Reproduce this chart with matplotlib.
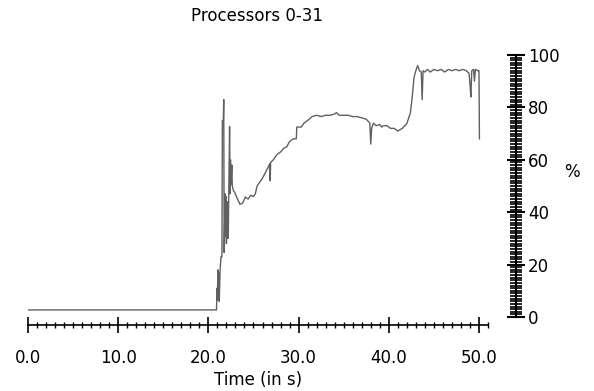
# CPU usage trace for processors 0-31, redrawn from the profiler screenshot.

import matplotlib
matplotlib.use("Agg")
import matplotlib.pyplot as plt
from matplotlib.ticker import MultipleLocator, FormatStrFormatter

# Time (s) and usage (%)
time_s = [
    0.0, 20.9, 20.95, 21.0, 21.05, 21.1, 21.15, 21.2, 21.3, 21.4,
    21.5, 21.55, 21.65, 21.7, 21.75, 21.85, 21.9, 21.95, 22.0, 22.1,
    22.2, 22.35, 22.4, 22.45, 22.5, 22.6, 22.65, 22.8, 22.9, 23.1,
    23.3, 23.5, 23.8, 24.1, 24.4, 24.7, 25.0, 25.2, 25.4, 25.7,
    26.0, 26.3, 26.6, 26.8, 26.85, 26.9, 27.2, 27.6, 28.0, 28.4,
    28.7, 29.0, 29.4, 29.75, 29.8, 30.3, 30.6, 31.0, 31.5, 32.0,
    32.5, 33.0, 33.5, 34.0, 34.2, 34.5, 35.0, 35.5, 36.0, 36.5,
    37.0, 37.5, 37.9, 38.0, 38.1, 38.3, 38.6, 39.0, 39.2, 39.4,
    39.8, 40.2, 40.6, 41.0, 41.5, 42.0, 42.4, 42.6, 42.8, 43.0,
    43.2, 43.4, 43.6, 43.7, 43.8, 44.0, 44.3, 44.6, 45.0, 45.4,
    45.8, 46.2, 46.6, 47.0, 47.4, 47.8, 48.2, 48.6, 48.9, 49.0,
    49.1, 49.2, 49.4, 49.5, 49.6, 49.9, 50.0, 50.05,
]
usage_pct = [
    2.7, 2.7, 11, 6.5, 18, 7, 17, 6, 18, 23,
    23, 75, 74, 83, 24.6, 47, 30.7, 46, 28, 44,
    30, 72.7, 47, 60, 50.7, 58, 50, 48, 47.7, 46,
    44.5, 43, 43.5, 45.8, 45, 46.5, 46, 47, 50, 51.5,
    53, 55, 57, 58.5, 52, 59, 60, 62, 63, 64.5,
    65, 67, 68, 68, 72.5, 72.5, 74, 75, 76.5, 77,
    76.5, 77, 77, 77.5, 78, 77, 77, 77, 76.5, 76.5,
    76, 75.5, 74, 66, 72, 74, 73, 73.5, 72.5, 73,
    73, 72, 72, 71, 72, 73.8, 78, 84, 91.5, 94,
    96, 94, 93.5, 83, 94, 93.5, 94.5, 93.5, 94.5, 94,
    94.5, 93.5, 94.5, 94, 94.5, 94, 94.5, 94, 93, 89,
    84, 94, 94.5, 90, 94.5, 94, 94, 68,
]

plt.rcParams["font.family"] = "DejaVu Sans"
plt.rcParams["font.size"] = 12

fig = plt.figure(figsize=(5.94, 3.91), dpi=100)
ax = fig.add_axes([28 / 594, 74 / 391, 460 / 594, 262 / 391])

ax.plot(time_s, usage_pct, color="#606060", linewidth=1.0)

ax.set_xlim(0, 51)
ax.set_ylim(0, 100)

# spines: only bottom and right, both detached from the plot area
ax.spines["top"].set_visible(False)
ax.spines["left"].set_visible(False)
ax.spines["bottom"].set_position(("outward", 5.4))
ax.spines["right"].set_position(("outward", 19.8))
ax.spines["bottom"].set_linewidth(1.2)
ax.spines["right"].set_linewidth(1.5)

ax.yaxis.tick_right()
ax.xaxis.set_major_locator(MultipleLocator(10))
ax.xaxis.set_minor_locator(MultipleLocator(1))
ax.xaxis.set_major_formatter(FormatStrFormatter("%.1f"))
ax.yaxis.set_major_locator(MultipleLocator(20))
ax.yaxis.set_minor_locator(MultipleLocator(1))

ax.tick_params(axis="x", which="major", direction="inout", length=11.5, width=1.2, pad=12)
ax.tick_params(axis="x", which="minor", direction="inout", length=5, width=1.0)
ax.tick_params(axis="y", which="major", direction="inout", length=13, width=1.5, pad=2.5)
ax.tick_params(axis="y", which="minor", direction="inout", length=8, width=1.2)

ax.set_xlabel("Time (in s)", labelpad=3)
ax.text(1.183, 0.553, "%", transform=ax.transAxes, ha="center", va="center")
fig.text(257 / 594, 1 - 16 / 391, "Processors 0-31", ha="center", va="center")

plt.savefig("out.png", dpi=100)
plt.close()
